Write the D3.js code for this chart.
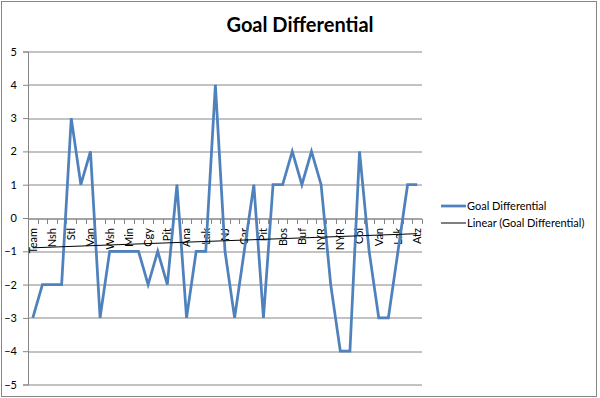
<!DOCTYPE html>
<html>
<head>
<meta charset="utf-8">
<script src="https://cdn.jsdelivr.net/npm/d3@7"></script>
<style>
  body { margin: 0; background: #fff; }
  svg { display: block; font-family: Lato, "Open Sans", sans-serif; }
</style>
</head>
<body>
<div id="chart"></div>
<script>
!(function (d3) {

    // goal differential per game, first entry is the "Team" header row
    var values = [-3, -2, -2, -2, 3, 1, 2, -3, -1, -1, -1, -1, -2, -1, -2, 1, -3, -1, -1, 4,
                  -1, -3, -1, 1, -3, 1, 1, 2, 1, 2, 1, -2, -4, -4, 2, -1, -3, -3, -1, 1, 1];

    // only every second category label is shown
    var tickLabels = ["Team", "Nsh", "Stl", "Van", "Wsh", "Min", "Cgy", "Pit", "Ana", "Lak", "NJ",
                      "Car", "Pit", "Bos", "Buf", "NYR", "NYR", "Col", "Van", "Lak", "Atz"];

    var yTicks = [-5, -4, -3, -2, -1, 0, 1, 2, 3, 4, 5];

    var seriesName = "Goal Differential";

    var W = 600, H = 398;
    var margin = {top: 51.5, left: 28, right: 178};
    var width = W - margin.left - margin.right,
        height = 384.5 - margin.top;

    var svg = d3.select("#chart").append("svg")
        .attr("width", W)
        .attr("height", H);

    // chart area border
    svg.append("rect")
        .attr("x", 1.5).attr("y", 1.5)
        .attr("width", 595).attr("height", 395)
        .attr("fill", "#fff")
        .attr("stroke", "#868686");

    var g = svg.append("g")
        .attr("transform", "translate(" + margin.left + "," + margin.top + ")");

    // set the ranges
    var x = d3.scaleBand().domain(d3.range(values.length)).range([0, width]);
    var y = d3.scaleLinear().domain([-5, 5]).range([height, 0]);
    var cx = function(i) { return x(i) + x.bandwidth() / 2; };

    // gridlines
    g.append("g")
        .selectAll("line")
        .data(yTicks)
        .enter().append("line")
        .attr("x1", 0).attr("x2", width)
        .attr("y1", function(d) { return Math.round(y(d)) + 0.5; })
        .attr("y2", function(d) { return Math.round(y(d)) + 0.5; })
        .attr("stroke", "#868686")
        .attr("stroke-width", 1);

    // Y axis
    var yAxis = g.append("g")
        .call(d3.axisLeft(y).tickValues(yTicks).tickSize(5).tickPadding(6).tickFormat(d3.format("d")));
    yAxis.select(".domain").attr("stroke", "#868686");
    yAxis.selectAll(".tick line").attr("stroke", "#868686");
    yAxis.selectAll("text").attr("font-size", 11).attr("fill", "#000")
        .style("font-family", "Lato, sans-serif");

    // X axis sits on zero
    var xAxis = g.append("g")
        .attr("transform", "translate(0," + (Math.round(y(0)) + 0.5) + ")");
    xAxis.append("line")
        .attr("x1", 0).attr("x2", width)
        .attr("stroke", "#868686");
    xAxis.selectAll(".xtick")
        .data(d3.range(values.length + 1))
        .enter().append("line")
        .attr("x1", function(i) { return Math.round(i * x.step()) + 0.5; })
        .attr("x2", function(i) { return Math.round(i * x.step()) + 0.5; })
        .attr("y1", 0).attr("y2", 5)
        .attr("stroke", "#868686");
    xAxis.selectAll(".xlabel")
        .data(tickLabels)
        .enter().append("text")
        .attr("transform", function(d, k) {
            return "translate(" + cx(k * 2) + ",9)rotate(-90)";
        })
        .attr("text-anchor", "end")
        .attr("dy", "0.35em")
        .attr("font-size", 11)
        .attr("fill", "#000")
        .text(function(d) { return d; });

    // linear trend line (least squares, x = 1..n)
    var n = values.length;
    var xs = d3.range(1, n + 1);
    var mx = d3.mean(xs), my = d3.mean(values);
    var slope = d3.sum(xs, function(v, i) { return (v - mx) * (values[i] - my); }) /
                d3.sum(xs, function(v) { return (v - mx) * (v - mx); });
    var icept = my - slope * mx;

    // define the line
    var valueline = d3.line()
        .x(function(d, i) { return cx(i); })
        .y(function(d) { return y(d); });

    g.append("path")
        .datum(values)
        .attr("fill", "none")
        .attr("stroke", "#4F81BD")
        .attr("stroke-width", 2.75)
        .attr("stroke-linejoin", "miter")
        .attr("d", valueline);

    g.append("line")
        .attr("x1", cx(0)).attr("y1", y(icept + slope * 1))
        .attr("x2", cx(n - 1)).attr("y2", y(icept + slope * n))
        .attr("stroke", "#000")
        .attr("stroke-width", 1);

    // title
    svg.append("text")
        .attr("x", 300).attr("y", 31.5)
        .attr("text-anchor", "middle")
        .attr("font-size", 20)
        .attr("font-weight", "bold")
        .attr("fill", "#000")
        .text(seriesName);

    // legend
    var legend = svg.append("g").attr("transform", "translate(441,206)");
    var items = [
        {name: seriesName, color: "#4F81BD", w: 2.75},
        {name: "Linear (" + seriesName + ")", color: "#000", w: 1}
    ];
    var li = legend.selectAll("g")
        .data(items)
        .enter().append("g")
        .attr("transform", function(d, i) { return "translate(0," + (i * 17) + ")"; });
    li.append("line")
        .attr("x1", 0).attr("x2", 25)
        .attr("stroke", function(d) { return d.color; })
        .attr("stroke-width", function(d) { return d.w; });
    li.append("text")
        .attr("x", 26).attr("dy", "0.35em")
        .attr("font-size", 11)
        .attr("fill", "#000")
        .text(function(d) { return d.name; });

})(d3);
</script>
</body>
</html>
